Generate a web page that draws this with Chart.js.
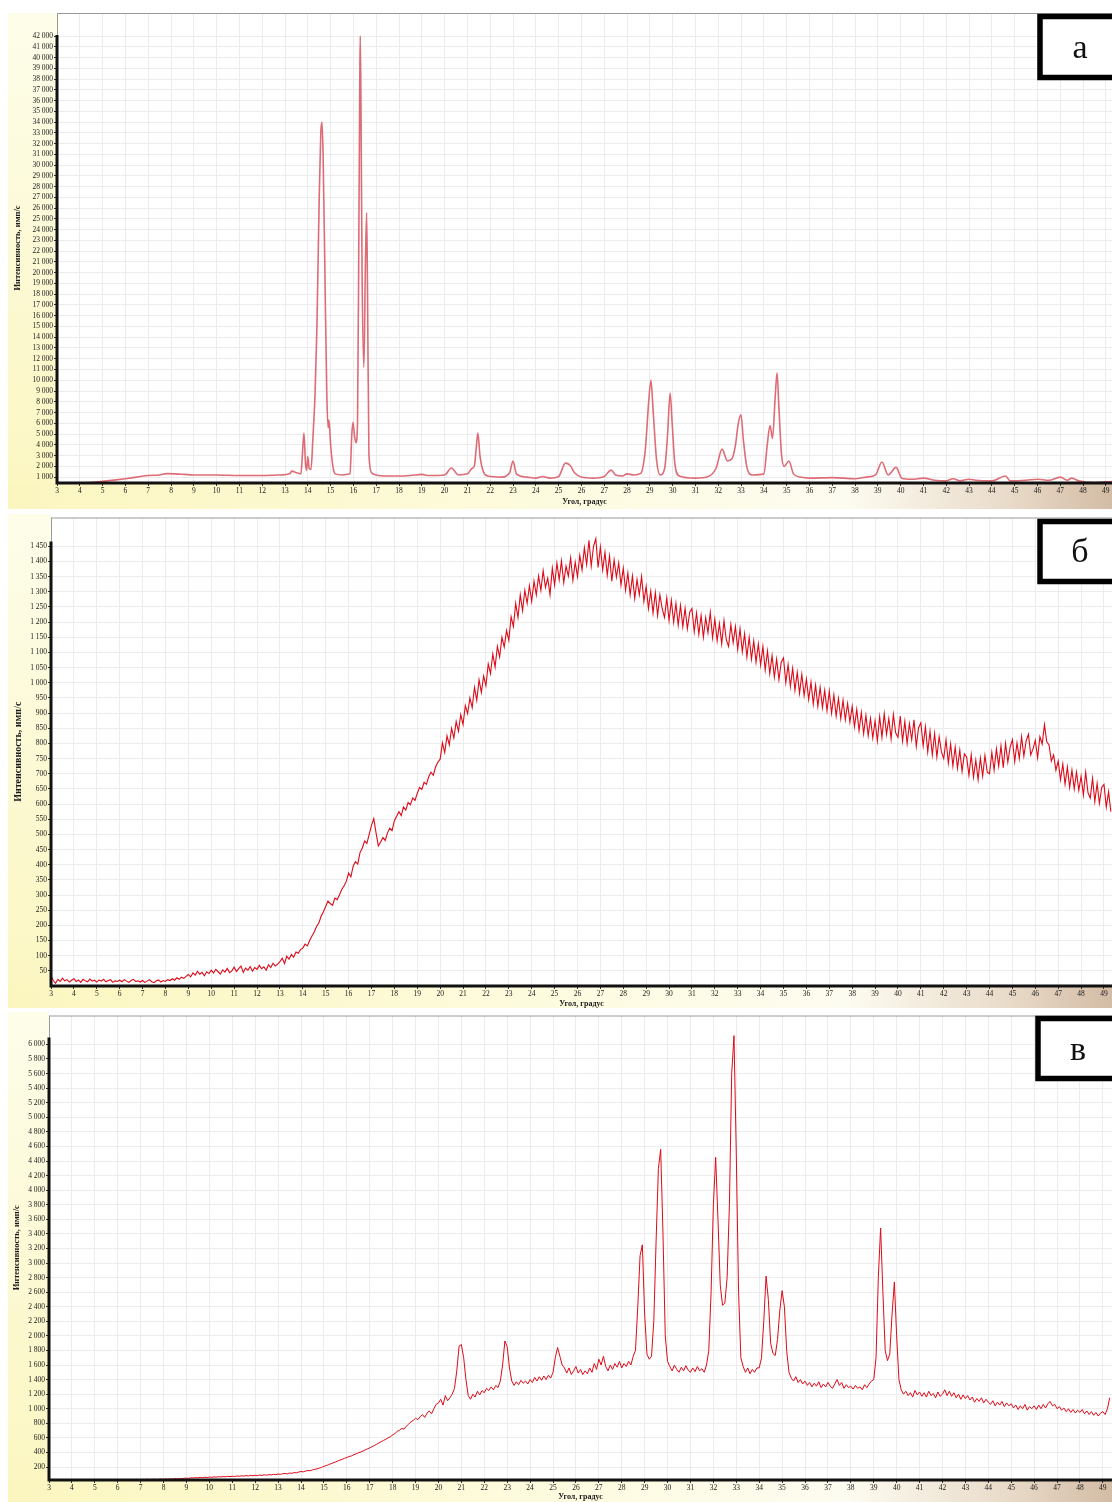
<!DOCTYPE html>
<html lang="ru">
<head>
<meta charset="utf-8">
<title>Дифрактограммы</title>
<script src="https://cdn.jsdelivr.net/npm/chart.js@4.4.1/dist/chart.umd.min.js"></script>
<style>
  html, body { margin: 0; padding: 0; background: #fff; }
  body { width: 1112px; height: 1502px; position: relative; overflow: hidden; }
  .panel { position: absolute; left: 0; width: 1112px; }
  .panel canvas { display: block; }
</style>
</head>
<body>
<div class="panel" style="top:0;height:512px"><canvas id="chartA" width="1112" height="512"></canvas></div>
<div class="panel" style="top:512px;height:498px"><canvas id="chartB" width="1112" height="498"></canvas></div>
<div class="panel" style="top:1010px;height:492px"><canvas id="chartC" width="1112" height="492"></canvas></div>
<script>
// tick labels
const angleTicks = [3, 4, 5, 6, 7, 8, 9, 10, 11, 12, 13, 14, 15, 16, 17, 18, 19, 20, 21, 22, 23, 24, 25, 26,
  27, 28, 29, 30, 31, 32, 33, 34, 35, 36, 37, 38, 39, 40, 41, 42, 43, 44, 45, 46, 47, 48, 49];
const intensityTicksA = [1000, 2000, 3000, 4000, 5000, 6000, 7000, 8000, 9000, 10000, 11000, 12000, 13000,
  14000, 15000, 16000, 17000, 18000, 19000, 20000, 21000, 22000, 23000, 24000, 25000, 26000, 27000, 28000,
  29000, 30000, 31000, 32000, 33000, 34000, 35000, 36000, 37000, 38000, 39000, 40000, 41000, 42000];
const intensityTicksB = [50, 100, 150, 200, 250, 300, 350, 400, 450, 500, 550, 600, 650, 700, 750, 800, 850,
  900, 950, 1000, 1050, 1100, 1150, 1200, 1250, 1300, 1350, 1400, 1450];
const intensityTicksC = [200, 400, 600, 800, 1000, 1200, 1400, 1600, 1800, 2000, 2200, 2400, 2600, 2800, 3000,
  3200, 3400, 3600, 3800, 4000, 4200, 4400, 4600, 4800, 5000, 5200, 5400, 5600, 5800, 6000];

// panel а: angle, degrees / intensity, counts per second
const angleA = [3.0, 3.5, 4.0, 4.5, 5.0, 5.5, 6.0, 6.5, 7.0, 7.5, 7.8, 8.2, 8.6, 9.0, 10.0, 11.0, 12.0, 12.8,
  13.2, 13.3, 13.5, 13.7, 13.76, 13.83, 13.9, 13.95, 14.0, 14.06, 14.14, 14.22, 14.32, 14.4, 14.5, 14.57,
  14.62, 14.67, 14.75, 14.83, 14.89, 14.93, 15.0, 15.1, 15.2, 15.5, 15.85, 15.93, 15.98, 16.05, 16.11, 16.18,
  16.24, 16.28, 16.3, 16.33, 16.38, 16.46, 16.52, 16.58, 16.62, 16.68, 16.8, 17.0, 17.5, 18.0, 18.5, 19.0,
  19.3, 20.0, 20.3, 20.6, 21.0, 21.2, 21.3, 21.4, 21.46, 21.55, 21.7, 21.9, 22.5, 22.85, 23.0, 23.15, 23.6,
  24.0, 24.3, 24.6, 25.0, 25.3, 25.5, 25.7, 26.0, 26.5, 27.0, 27.3, 27.5, 27.8, 28.0, 28.3, 28.6, 28.8, 28.95,
  29.05, 29.15, 29.3, 29.45, 29.65, 29.78, 29.89, 29.98, 30.1, 30.3, 31.0, 31.5, 31.9, 32.17, 32.4, 32.6,
  32.75, 32.88, 33.0, 33.1, 33.25, 33.5, 34.0, 34.15, 34.27, 34.38, 34.5, 34.58, 34.66, 34.78, 34.9, 35.1,
  35.3, 35.6, 36.0, 37.0, 38.0, 38.5, 38.9, 39.18, 39.45, 39.8, 40.05, 40.5, 41.0, 41.5, 42.0, 42.3, 42.6,
  43.0, 43.3, 44.0, 44.6, 44.8, 45.5, 46.0, 46.5, 47.0, 47.3, 47.5, 47.8, 48.5, 49.3];
const intensityA = [300, 350, 420, 500, 600, 720, 850, 1000, 1150, 1200, 1320, 1300, 1250, 1200, 1200, 1150,
  1150, 1200, 1300, 1550, 1400, 1300, 3000, 5100, 2200, 1650, 2900, 1800, 1700, 4500, 8900, 15000, 27000,
  33000, 34000, 31000, 20000, 9000, 5600, 6300, 4000, 2000, 1300, 1200, 1300, 5000, 6100, 4800, 4200, 6000,
  24000, 38000, 42000, 36000, 20000, 11200, 20000, 25600, 18000, 3200, 1400, 1200, 1100, 1100, 1150, 1250,
  1150, 1200, 1850, 1200, 1300, 1800, 2000, 4000, 5100, 3000, 1500, 1100, 1000, 1400, 2500, 1300, 1000,
  900, 1050, 900, 1050, 2300, 2100, 1400, 1000, 900, 1050, 1650, 1200, 1100, 1300, 1200, 1350, 3500, 8000,
  10000, 7000, 2500, 1200, 1800, 5000, 8800, 6000, 2200, 1100, 900, 1000, 1800, 3600, 2500, 2700,
  3900, 6000, 6800, 4500, 2000, 1200, 1300, 4000, 5800, 4600, 8500, 10700, 7500, 3000, 2000, 2500,
  1300, 1000, 900, 950, 850, 1000, 1200, 2400, 1200, 1900, 900, 800, 900, 700, 650, 850, 650,
  800, 700, 650, 1100, 650, 700, 800, 700, 1000, 700, 900, 650, 500, 600];

// panel б: sampled every 0.1 degree from 3.0
const angleStartB = 3.0;
const angleStepB = 0.1;
const intensityB = [
  34, 18, 9, 22, 15, 26, 17, 21, 13, 19,
  24, 15, 20, 12, 22, 17, 14, 23, 16, 19,
  13, 20, 16, 22, 14, 18, 21, 12, 17, 15,
  19, 14, 21, 16, 12, 18, 22, 15, 17, 13,
  18, 12, 16, 21, 14, 11, 17, 20, 13, 18,
  15, 21, 18, 24, 19, 27, 22, 29, 25, 32,
  38, 30, 43, 36, 48, 39, 45, 34, 47, 41,
  52, 43, 55, 47, 39, 53, 46, 58, 44, 50,
  62, 48, 57, 66, 45, 59, 52, 64, 49, 61,
  55, 68, 57, 63, 52, 70, 61, 75, 66, 72,
  80, 92, 74, 98, 88, 104, 95, 112, 108, 120,
  125, 138, 132, 150, 165, 178, 196, 208, 230, 245,
  262, 280, 272, 266, 290, 285, 300, 318, 330, 345,
  372, 360, 395, 410, 402, 440, 455, 478, 470, 500,
  530, 552, 505, 462, 475, 490, 480, 505, 520, 512,
  545, 560, 575, 562, 590, 580, 605, 598, 620, 612,
  635, 655, 648, 672, 665, 690, 705, 695, 722, 738,
  748, 802, 770, 825, 795, 850, 818, 872, 840, 895,
  862, 925, 898, 950, 918, 985, 942, 1010, 968, 1022,
  990, 1062, 1030, 1095, 1052, 1120, 1085, 1150, 1118, 1172,
  1140, 1218, 1185, 1262, 1215, 1290, 1238, 1305, 1262, 1320,
  1268, 1335, 1290, 1352, 1305, 1370, 1315, 1345, 1290, 1378,
  1322, 1395, 1340, 1402, 1330, 1385, 1352, 1412, 1338, 1398,
  1350, 1420, 1372, 1445, 1390, 1470, 1385, 1450, 1475, 1380,
  1448, 1372, 1430, 1355, 1418, 1335, 1405, 1348, 1395, 1322,
  1378, 1305, 1362, 1290, 1352, 1278, 1340, 1290, 1350, 1268,
  1318, 1245, 1302, 1230, 1298, 1222, 1290, 1245, 1215, 1280,
  1205, 1272, 1200, 1262, 1190, 1255, 1185, 1245, 1178, 1232,
  1245, 1168, 1230, 1160, 1222, 1150, 1215, 1165, 1232, 1148,
  1210, 1138, 1195, 1128, 1205, 1142, 1120, 1192, 1132, 1185,
  1110, 1178, 1102, 1162, 1085, 1150, 1078, 1138, 1068, 1128,
  1058, 1120, 1042, 1105, 1030, 1090, 1018, 1078, 1010, 1068,
  1082, 1000, 1060, 988, 1048, 975, 1035, 965, 1028, 958,
  1012, 945, 1002, 930, 992, 922, 985, 918, 975, 908,
  972, 900, 960, 890, 948, 882, 942, 878, 932, 870,
  922, 855, 912, 842, 902, 832, 892, 825, 882, 818,
  875, 808, 888, 820, 898, 830, 882, 815, 895, 835,
  820, 890, 808, 872, 800, 865, 812, 878, 790, 852,
  868, 792, 855, 772, 840, 762, 832, 755, 822, 772,
  750, 812, 735, 798, 725, 788, 718, 778, 708, 765,
  755, 695, 762, 688, 745, 680, 752, 692, 760, 705,
  700, 770, 712, 782, 725, 792, 720, 800, 738, 788,
  812, 740, 802, 750, 822, 758, 808, 830, 762, 782,
  810, 752, 822, 798, 862, 805, 795, 742, 762, 712,
  742, 680, 732, 665, 722, 655, 712, 650, 705, 645,
  692, 630, 705, 638, 620, 685, 608, 668, 602, 655,
  665, 590, 640, 575];

// panel в: sampled every 0.1 degree from 3.0
const angleStartC = 3.0;
const angleStepC = 0.1;
const intensityC = [
  40, 25, 30, 22, 28, 24, 30, 26, 22, 28,
  25, 30, 24, 28, 22, 27, 30, 25, 28, 24,
  28, 24, 30, 26, 22, 28, 25, 30, 24, 27,
  30, 26, 24, 29, 25, 31, 27, 24, 30, 28,
  26, 31, 28, 33, 27, 30, 34, 29, 32, 35,
  30, 36, 33, 38, 35, 40, 37, 42, 39, 45,
  48, 44, 52, 49, 55, 51, 58, 54, 60, 56,
  62, 58, 65, 61, 68, 64, 70, 66, 72, 69,
  74, 70, 77, 73, 80, 76, 82, 78, 85, 80,
  86, 82, 90, 85, 93, 88, 96, 92, 100, 95,
  104, 99, 108, 112, 106, 118, 113, 124, 120, 132,
  138, 134, 145, 152, 148, 160, 168, 175, 185, 195,
  210, 220, 232, 245, 258, 268, 282, 295, 305, 320,
  330, 345, 352, 368, 380, 395, 405, 418, 435, 450,
  462, 480, 495, 512, 530, 548, 565, 580, 600, 615,
  640, 660, 690, 705, 730, 720, 760, 790, 820, 840,
  870, 850, 890, 920, 880, 940, 970, 930, 1000, 1060,
  1080, 1130, 1050, 1180, 1110, 1150, 1200, 1280, 1520, 1860,
  1880, 1700, 1400, 1180, 1130, 1200, 1160, 1240, 1190, 1250,
  1220, 1280, 1250, 1300, 1260, 1320, 1290, 1380, 1600, 1930,
  1850, 1560, 1380, 1320, 1370, 1330, 1390, 1350, 1380, 1340,
  1400, 1360, 1430, 1380, 1440, 1390, 1450, 1400, 1460, 1420,
  1500, 1700, 1840, 1720, 1600, 1560, 1490, 1560, 1470, 1520,
  1580, 1490, 1540, 1470, 1520, 1480, 1560, 1500, 1620, 1540,
  1680, 1600, 1720, 1580, 1520, 1600, 1540, 1620, 1570, 1650,
  1560, 1620, 1580, 1650, 1600, 1720, 1800, 2400, 3100, 3250,
  2300, 1750, 1680, 1720, 2200, 3300, 4300, 4560, 3400, 2000,
  1650, 1580, 1520, 1600, 1540, 1500, 1570, 1520, 1590, 1530,
  1500, 1560, 1510, 1580, 1520, 1550, 1500, 1600, 1800, 2600,
  3800, 4450, 3600, 2700, 2420, 2450, 2800, 3800, 5600, 6120,
  4500, 2600, 1700, 1580, 1500, 1560, 1480, 1540, 1500, 1560,
  1560, 1700, 2200, 2820, 2500, 1900, 1760, 1730, 1950, 2350,
  2620, 2400, 1800, 1500, 1420, 1380, 1440, 1360, 1400, 1340,
  1380, 1320, 1360, 1300, 1350, 1310, 1370, 1290, 1340, 1300,
  1360, 1310, 1280, 1340, 1400, 1320, 1360, 1280, 1330, 1290,
  1310, 1270, 1320, 1280, 1300, 1260, 1330, 1290, 1340, 1380,
  1400, 1700, 2800, 3480, 2600, 1800, 1660, 1750, 2300, 2740,
  2000, 1400, 1260, 1200, 1240, 1180, 1220, 1160, 1250, 1190,
  1230, 1170, 1220, 1160, 1240, 1180, 1210, 1150, 1230, 1170,
  1200, 1260, 1180, 1240, 1170, 1220, 1150, 1200, 1130, 1190,
  1140, 1180, 1120, 1160, 1090, 1140, 1100, 1150, 1080, 1130,
  1090, 1060, 1110, 1040, 1090, 1050, 1100, 1030, 1080, 1040,
  1070, 1010, 1050, 990, 1040, 1000, 1060, 980, 1030, 1000,
  1040, 990, 1050, 1000, 1060, 1010, 1070, 1100, 1040, 1060,
  1000, 1030, 980, 1010, 960, 1000, 950, 990, 940, 980,
  950, 990, 930, 970, 920, 960, 910, 950, 900, 940,
  960, 920, 1000, 1150];

const serif = "'Liberation Serif', 'DejaVu Serif', serif";
const textColor = '#1a1a1a';
const gridColor = '#ececec';

const pairsFromArrays = (xs, ys) => ys.map((y, i) => ({ x: xs[i], y: y }));
const pairsFromStep = (start, step, ys) => ys.map((y, i) => ({ x: +(start + i * step).toFixed(2), y: y }));

const spaced = (v) => String(v).replace(/\B(?=(\d{3})+(?!\d))/g, ' ');

// background, frame, thick axes and the letter box
const panelDecor = {
  id: 'panelDecor',
  beforeDraw(chart, args, o) {
    const { ctx, width, chartArea: a } = chart;
    ctx.save();
    ctx.fillStyle = '#fff';
    ctx.fillRect(0, 0, width, chart.height);

    const side = ctx.createLinearGradient(0, o.bgTop, 0, o.bgBottom);
    side.addColorStop(0, '#fdfdea');
    side.addColorStop(1, '#fbf6c0');
    ctx.fillStyle = side;
    ctx.fillRect(8, o.bgTop, a.left - 8, o.bgBottom - o.bgTop);

    const floor = ctx.createLinearGradient(8, 0, width, 0);
    floor.addColorStop(0, '#fbf6bf');
    floor.addColorStop(0.45, '#fdfbdc');
    floor.addColorStop(0.76, '#fdfcf0');
    floor.addColorStop(0.9, '#eadccb');
    floor.addColorStop(1, '#d3bca5');
    ctx.fillStyle = floor;
    ctx.fillRect(8, a.bottom, width - 8, o.bgBottom - a.bottom);

    ctx.fillStyle = '#fff';
    ctx.fillRect(a.left, a.top, a.right - a.left, a.bottom - a.top);
    ctx.restore();
  },
  afterDraw(chart, args, o) {
    const { ctx, chartArea: a, scales } = chart;
    ctx.save();
    ctx.strokeStyle = '#9a9a9a';
    ctx.lineWidth = 1;
    ctx.strokeRect(a.left + 0.5, a.top + 0.5, a.right - a.left, a.bottom - a.top);

    ctx.strokeStyle = '#111';
    ctx.lineWidth = 3;
    ctx.beginPath();
    ctx.moveTo(a.left, scales.y.getPixelForValue(o.axisTop));
    ctx.lineTo(a.left, a.bottom);
    ctx.lineTo(a.right, a.bottom);
    ctx.stroke();

    const b = o.box;
    ctx.fillStyle = '#fff';
    ctx.fillRect(b.x, b.y, b.w, b.h);
    ctx.strokeStyle = '#000';
    ctx.lineWidth = 5.5;
    ctx.strokeRect(b.x, b.y, b.w, b.h);
    ctx.fillStyle = '#111';
    ctx.font = '34px ' + serif;
    ctx.textAlign = 'center';
    ctx.textBaseline = 'middle';
    ctx.fillText(o.letter, b.tx, b.ty);
    ctx.restore();
  }
};

function makeChart(id, cfg) {
  const tickFont = { family: serif, size: 7.5 };
  new Chart(document.getElementById(id), {
    type: 'line',
    data: {
      datasets: [{
        data: cfg.points,
        borderColor: cfg.color,
        borderWidth: cfg.lineWidth,
        pointRadius: 0,
        fill: false,
        cubicInterpolationMode: cfg.smooth ? 'monotone' : 'default',
        tension: 0
      }]
    },
    options: {
      responsive: false,
      animation: false,
      events: [],
      layout: { padding: { top: cfg.top, left: 0, right: 0, bottom: 0 } },
      plugins: {
        legend: { display: false },
        tooltip: { enabled: false },
        panelDecor: cfg.decor
      },
      scales: {
        x: {
          type: 'linear',
          min: 3,
          max: cfg.xMax,
          afterBuildTicks: (s) => { s.ticks = angleTicks.map((v) => ({ value: v })); },
          afterFit: (s) => { s.height = cfg.xAxisHeight; },
          border: { display: false },
          grid: { color: gridColor, tickLength: 3, tickColor: '#333' },
          ticks: { font: tickFont, color: textColor, padding: 1, maxRotation: 0, autoSkip: false },
          title: {
            display: true,
            text: 'Угол, градус',
            font: { family: serif, size: 8, weight: 'bold' },
            color: textColor,
            padding: { top: 0, bottom: cfg.xTitlePad }
          }
        },
        y: {
          type: 'linear',
          min: cfg.yMin,
          max: cfg.yMax,
          afterBuildTicks: (s) => { s.ticks = cfg.yTicks.map((v) => ({ value: v })); },
          afterFit: (s) => { s.width = cfg.left; },
          border: { display: false },
          grid: { color: gridColor, tickLength: 3, tickColor: '#333' },
          ticks: { font: tickFont, color: textColor, padding: 1, autoSkip: false, callback: (v) => spaced(v) },
          title: {
            display: true,
            text: 'Интенсивность, имп/с',
            font: { family: serif, size: cfg.yTitleSize, weight: 'bold' },
            color: textColor,
            padding: { top: cfg.yTitleX - cfg.yTitleSize * 0.6, bottom: 0 }
          }
        }
      }
    },
    plugins: [panelDecor]
  });
}

makeChart('chartA', {
  points: pairsFromArrays(angleA, intensityA),
  color: 'rgb(222, 108, 118)',
  lineWidth: 1.6,
  smooth: true,
  top: 13, left: 57, xAxisHeight: 29, xMax: 49.27, xTitlePad: 5,
  yMin: 450, yMax: 44140, yTicks: intensityTicksA, yTitleSize: 8.5, yTitleX: 18,
  decor: { bgTop: 13, bgBottom: 509, axisTop: 42100, letter: 'а',
    box: { x: 1040, y: 16.5, w: 90, h: 61, tx: 1080, ty: 49 } }
});

makeChart('chartB', {
  points: pairsFromStep(angleStartB, angleStepB, intensityB),
  color: 'rgb(222, 10, 24)',
  lineWidth: 1.1,
  smooth: false,
  top: 4, left: 51, xAxisHeight: 24, xMax: 49.35, xTitlePad: 1,
  yMin: 0, yMax: 1545, yTicks: intensityTicksB, yTitleSize: 10, yTitleX: 18,
  decor: { bgTop: 2, bgBottom: 496, axisTop: 1466, letter: 'б',
    box: { x: 1040, y: 9.5, w: 90, h: 60, tx: 1080, ty: 41 } }
});

makeChart('chartC', {
  points: pairsFromStep(angleStartC, angleStepC, intensityC),
  color: 'rgb(222, 10, 24)',
  lineWidth: 1,
  smooth: false,
  top: 4, left: 49, xAxisHeight: 22, xMax: 49.4, xTitlePad: 0,
  yMin: 22, yMax: 6397, yTicks: intensityTicksC, yTitleSize: 8.5, yTitleX: 17,
  decor: { bgTop: 2, bgBottom: 492, axisTop: 6096, letter: 'в',
    box: { x: 1038, y: 8.5, w: 90, h: 60, tx: 1078, ty: 41 } }
});
</script>
</body>
</html>
